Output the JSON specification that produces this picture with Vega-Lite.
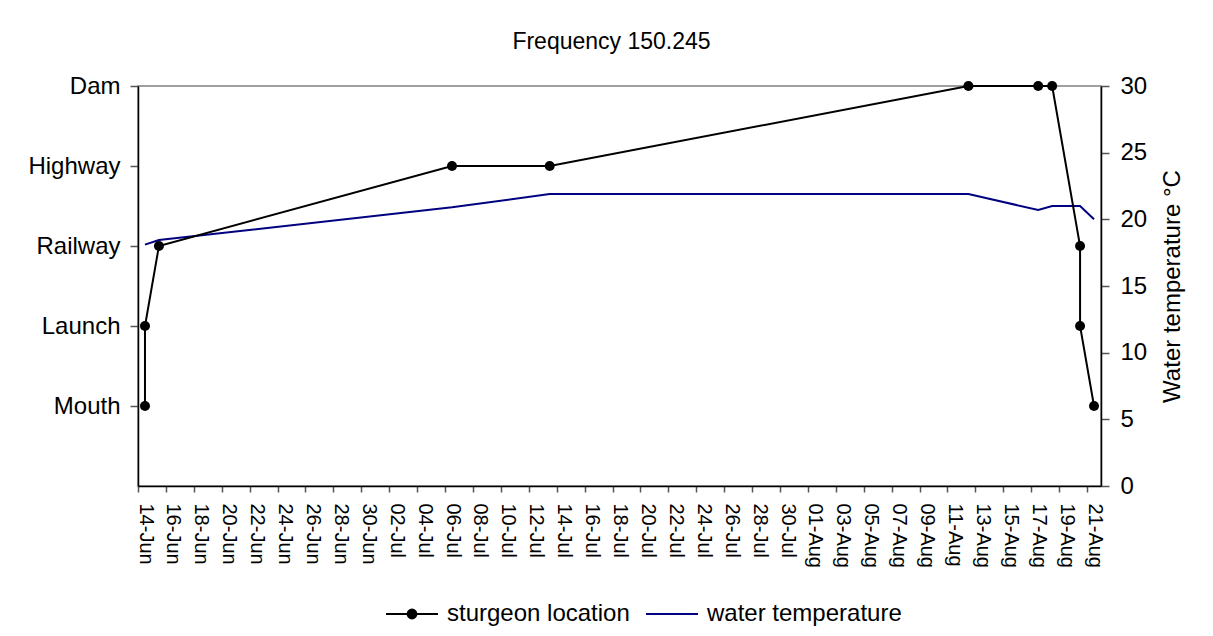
{
  "$schema": "https://vega.github.io/schema/vega-lite/v6.json",
  "width": 963,
  "height": 400,
  "autosize": {"type": "none"},
  "padding": {"left": 138, "top": 86, "right": 112, "bottom": 150},
  "background": "white",
  "title": {"text": "Frequency 150.245", "fontSize": 23, "fontWeight": "normal", "font": "Liberation Sans", "color": "black", "offset": 20, "dx": -8},
  "config": {
    "view": {"stroke": "#808080", "strokeWidth": 1.5},
    "font": "Liberation Sans",
    "axis": {"labelFont": "Liberation Sans", "titleFont": "Liberation Sans", "labelColor": "black", "titleColor": "black", "domainColor": "black", "domainWidth": 1.5, "tickColor": "#555555", "tickWidth": 1.5, "grid": false, "titleFontWeight": "normal"},
    "legend": {"labelFont": "Liberation Sans", "labelColor": "black"}
  },
  "datasets": {
    "sturgeon": [
      {"seq": 1, "date": "2008-06-14T12:00:00", "location": "Mouth"},
      {"seq": 2, "date": "2008-06-14T12:00:00", "location": "Launch"},
      {"seq": 3, "date": "2008-06-15T12:00:00", "location": "Railway"},
      {"seq": 4, "date": "2008-07-06T12:00:00", "location": "Highway"},
      {"seq": 5, "date": "2008-07-13T12:00:00", "location": "Highway"},
      {"seq": 6, "date": "2008-08-12T12:00:00", "location": "Dam"},
      {"seq": 7, "date": "2008-08-17T12:00:00", "location": "Dam"},
      {"seq": 8, "date": "2008-08-18T12:00:00", "location": "Dam"},
      {"seq": 9, "date": "2008-08-20T12:00:00", "location": "Railway"},
      {"seq": 10, "date": "2008-08-20T12:00:00", "location": "Launch"},
      {"seq": 11, "date": "2008-08-21T12:00:00", "location": "Mouth"}
    ],
    "temperature": [
      {"date": "2008-06-14T12:00:00", "temp": 18.1},
      {"date": "2008-06-15T12:00:00", "temp": 18.45},
      {"date": "2008-07-06T12:00:00", "temp": 20.9},
      {"date": "2008-07-13T12:00:00", "temp": 21.9},
      {"date": "2008-08-12T12:00:00", "temp": 21.9},
      {"date": "2008-08-17T12:00:00", "temp": 20.7},
      {"date": "2008-08-18T12:00:00", "temp": 21.0},
      {"date": "2008-08-20T12:00:00", "temp": 21.0},
      {"date": "2008-08-21T12:00:00", "temp": 20.0}
    ]
  },
  "encoding": {
    "x": {
      "field": "date",
      "type": "temporal",
      "scale": {"domain": [{"year": 2008, "month": 6, "date": 14}, {"year": 2008, "month": 8, "date": 22}]},
      "axis": {
        "title": null,
        "format": "%d-%b",
        "labelAngle": 90,
        "labelOffset": 7,
        "labelFontSize": 20,
        "tickSize": 6,
        "labelPadding": 11,
        "values": [
          {"year": 2008, "month": 6, "date": 14}, {"year": 2008, "month": 6, "date": 16}, {"year": 2008, "month": 6, "date": 18},
          {"year": 2008, "month": 6, "date": 20}, {"year": 2008, "month": 6, "date": 22}, {"year": 2008, "month": 6, "date": 24},
          {"year": 2008, "month": 6, "date": 26}, {"year": 2008, "month": 6, "date": 28}, {"year": 2008, "month": 6, "date": 30},
          {"year": 2008, "month": 7, "date": 2}, {"year": 2008, "month": 7, "date": 4}, {"year": 2008, "month": 7, "date": 6},
          {"year": 2008, "month": 7, "date": 8}, {"year": 2008, "month": 7, "date": 10}, {"year": 2008, "month": 7, "date": 12},
          {"year": 2008, "month": 7, "date": 14}, {"year": 2008, "month": 7, "date": 16}, {"year": 2008, "month": 7, "date": 18},
          {"year": 2008, "month": 7, "date": 20}, {"year": 2008, "month": 7, "date": 22}, {"year": 2008, "month": 7, "date": 24},
          {"year": 2008, "month": 7, "date": 26}, {"year": 2008, "month": 7, "date": 28}, {"year": 2008, "month": 7, "date": 30},
          {"year": 2008, "month": 8, "date": 1}, {"year": 2008, "month": 8, "date": 3}, {"year": 2008, "month": 8, "date": 5},
          {"year": 2008, "month": 8, "date": 7}, {"year": 2008, "month": 8, "date": 9}, {"year": 2008, "month": 8, "date": 11},
          {"year": 2008, "month": 8, "date": 13}, {"year": 2008, "month": 8, "date": 15}, {"year": 2008, "month": 8, "date": 17},
          {"year": 2008, "month": 8, "date": 19}, {"year": 2008, "month": 8, "date": 21}
        ]
      }
    },
    "color": {
      "scale": {"domain": ["sturgeon location", "water temperature"], "range": ["black", "#000080"]},
      "legend": {
        "title": null,
        "orient": "none",
        "direction": "horizontal",
        "legendX": 247,
        "legendY": 501,
        "labelFontSize": 24,
        "labelLimit": 0,
        "labelOffset": 8,
        "columnPadding": 12,
        "symbolSize": 2704,
        "symbolStrokeWidth": 2,
        "symbolType": "stroke",
        "encode": {
          "symbols": {
            "update": {
              "shape": {"signal": "datum.value === 'sturgeon location' ? 'M-1,0H1M0.17,0A0.17,0.17 0 1,1 -0.17,0A0.17,0.17 0 1,1 0.17,0Z' : 'stroke'"},
              "fill": {"signal": "datum.value === 'sturgeon location' ? 'black' : 'transparent'"},
              "strokeWidth": {"value": 2}
            }
          }
        }
      }
    }
  },
  "layer": [
    {
      "data": {"name": "temperature"},
      "mark": {"type": "line", "strokeWidth": 2},
      "encoding": {
        "y": {
          "field": "temp",
          "type": "quantitative",
          "scale": {"domain": [0, 30], "nice": false},
          "axis": {
            "orient": "right",
            "title": "Water temperature °C",
            "titleAngle": 270,
            "titleBaseline": "top",
            "titleFontSize": 24,
            "titlePadding": 14,
            "values": [0, 5, 10, 15, 20, 25, 30],
            "labelFontSize": 24,
            "tickSize": 8,
            "labelPadding": 11,
            "encode": {"ticks": {"update": {"x2": {"value": -8}}}}
          }
        },
        "color": {"datum": "water temperature"}
      }
    },
    {
      "data": {"name": "sturgeon"},
      "mark": {"type": "line", "strokeWidth": 2, "point": {"filled": true, "size": 100}},
      "encoding": {
        "y": {
          "field": "location",
          "type": "ordinal",
          "scale": {"type": "point", "domain": ["Dam", "Highway", "Railway", "Launch", "Mouth", "(none)"], "padding": 0},
          "axis": {
            "orient": "left",
            "title": null,
            "values": ["Dam", "Highway", "Railway", "Launch", "Mouth"],
            "labelFontSize": 24,
            "tickSize": 8,
            "labelPadding": 10,
            "encode": {"labels": {"update": {"dy": {"signal": "datum.value === 'Dam' ? 6 : 0"}}}}
          }
        },
        "order": {"field": "seq", "type": "quantitative"},
        "color": {"datum": "sturgeon location"}
      }
    }
  ],
  "resolve": {"scale": {"y": "independent"}}
}
